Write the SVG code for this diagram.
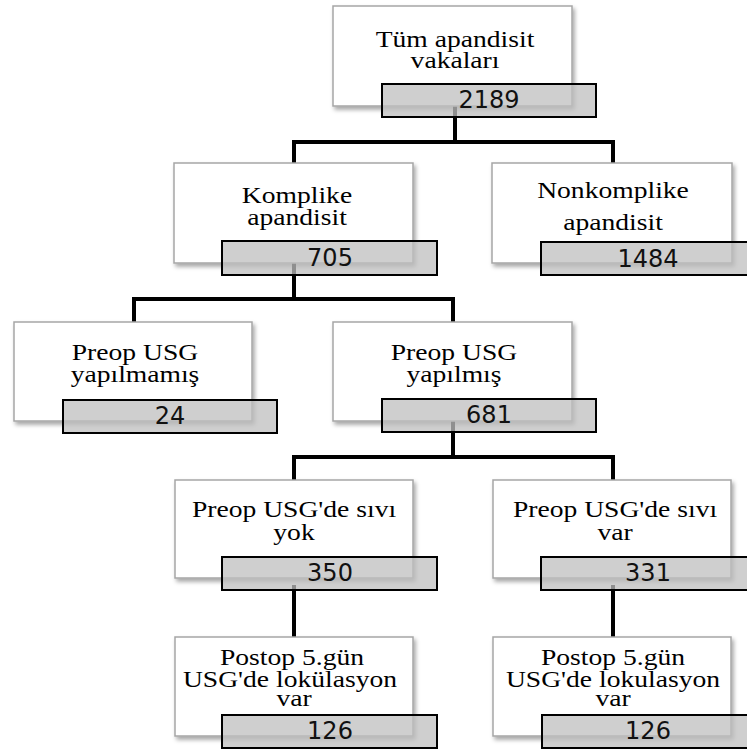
<svg xmlns="http://www.w3.org/2000/svg" width="747" height="749" viewBox="0 0 747 749">
  <defs>
    <filter id="shadow" x="-10%" y="-10%" width="125%" height="130%">
      <feDropShadow dx="2" dy="3" stdDeviation="2" flood-color="#000" flood-opacity="0.35"/>
    </filter>
    <style>
      .box { fill: #ffffff; stroke: #a6a6a6; stroke-width: 1.5; filter: url(#shadow); }
      .num { fill: #bfbfbf; fill-opacity: 0.75; stroke: #000; stroke-width: 2; }
      .lbl { font-family: "Liberation Serif", "Times New Roman", serif; font-size: 23px; fill: #000; text-anchor: middle; }
      .val { font-family: "DejaVu Sans", Verdana, sans-serif; font-size: 24px; fill: #111; text-anchor: middle; }
      .link { fill: none; stroke: #000; stroke-width: 4; stroke-linejoin: miter; stroke-linecap: butt; }
    </style>
  </defs>
  <rect width="747" height="749" fill="#fff"/>

  <!-- connectors -->
  <g id="connectors">
    <path class="link" d="M455,100 V142 M294,170 V142 H613 V170"/>
    <path class="link" d="M294,260 V299 M134,330 V299 H453 V330"/>
    <path class="link" d="M453,418 V457 M294,488 V457 H613 V488"/>
    <path class="link" d="M294,585 V645"/>
    <path class="link" d="M613,585 V645"/>
  </g>

  <!-- all appendicitis cases -->
  <g id="node-all">
    <rect class="box" x="333" y="6" width="239" height="100"/>
    <text class="lbl" transform="translate(455,47) scale(1.2,1)">Tüm apandisit</text>
    <text class="lbl" transform="translate(455,68) scale(1.2,1)">vakaları</text>
    <rect class="num" x="382" y="84" width="214" height="33"/>
    <text class="val" x="489" y="108">2189</text>
  </g>

  <g id="node-komplike">
    <rect class="box" x="174" y="163" width="239" height="100"/>
    <text class="lbl" transform="translate(297,203) scale(1.2,1)">Komplike</text>
    <text class="lbl" transform="translate(297,225) scale(1.2,1)">apandisit</text>
    <rect class="num" x="222" y="241" width="215" height="34"/>
    <text class="val" x="330" y="266">705</text>
  </g>

  <g id="node-nonkomplike">
    <rect class="box" x="492" y="163" width="240" height="100"/>
    <text class="lbl" transform="translate(613,198) scale(1.2,1)">Nonkomplike</text>
    <text class="lbl" transform="translate(613,230) scale(1.2,1)">apandisit</text>
    <rect class="num" x="541" y="242" width="214" height="33"/>
    <text class="val" x="648" y="267">1484</text>
  </g>

  <g id="node-usg-yok">
    <rect class="box" x="14" y="322" width="238" height="99"/>
    <text class="lbl" transform="translate(135,360) scale(1.2,1)">Preop USG</text>
    <text class="lbl" transform="translate(135,382) scale(1.2,1)">yapılmamış</text>
    <rect class="num" x="63" y="400" width="214" height="33"/>
    <text class="val" x="170" y="424">24</text>
  </g>

  <g id="node-usg-var">
    <rect class="box" x="333" y="322" width="239" height="99"/>
    <text class="lbl" transform="translate(454,360) scale(1.2,1)">Preop USG</text>
    <text class="lbl" transform="translate(454,382) scale(1.2,1)">yapılmış</text>
    <rect class="num" x="382" y="399" width="214" height="33"/>
    <text class="val" x="489" y="423">681</text>
  </g>

  <g id="node-sivi-yok">
    <rect class="box" x="175" y="480" width="238" height="98"/>
    <text class="lbl" transform="translate(294,517) scale(1.2,1)">Preop USG'de sıvı</text>
    <text class="lbl" transform="translate(294,540) scale(1.2,1)">yok</text>
    <rect class="num" x="222" y="557" width="215" height="33"/>
    <text class="val" x="330" y="581">350</text>
  </g>

  <g id="node-sivi-var">
    <rect class="box" x="493" y="480" width="238" height="98"/>
    <text class="lbl" transform="translate(615,517) scale(1.2,1)">Preop USG'de sıvı</text>
    <text class="lbl" transform="translate(615,540) scale(1.2,1)">var</text>
    <rect class="num" x="541" y="557" width="214" height="33"/>
    <text class="val" x="648" y="581">331</text>
  </g>

  <g id="node-postop-left">
    <rect class="box" x="175" y="637" width="238" height="99"/>
    <text class="lbl" transform="translate(292,665) scale(1.2,1)">Postop 5.gün</text>
    <text class="lbl" transform="translate(290,687) scale(1.2,1)">USG'de lokülasyon</text>
    <text class="lbl" transform="translate(294,706) scale(1.2,1)">var</text>
    <rect class="num" x="222" y="715" width="215" height="33"/>
    <text class="val" x="330" y="739">126</text>
  </g>

  <g id="node-postop-right">
    <rect class="box" x="493" y="637" width="238" height="99"/>
    <text class="lbl" transform="translate(613,665) scale(1.2,1)">Postop 5.gün</text>
    <text class="lbl" transform="translate(613,687) scale(1.2,1)">USG'de lokulasyon</text>
    <text class="lbl" transform="translate(613,706) scale(1.2,1)">var</text>
    <rect class="num" x="542" y="715" width="214" height="33"/>
    <text class="val" x="648" y="739">126</text>
  </g>
</svg>
